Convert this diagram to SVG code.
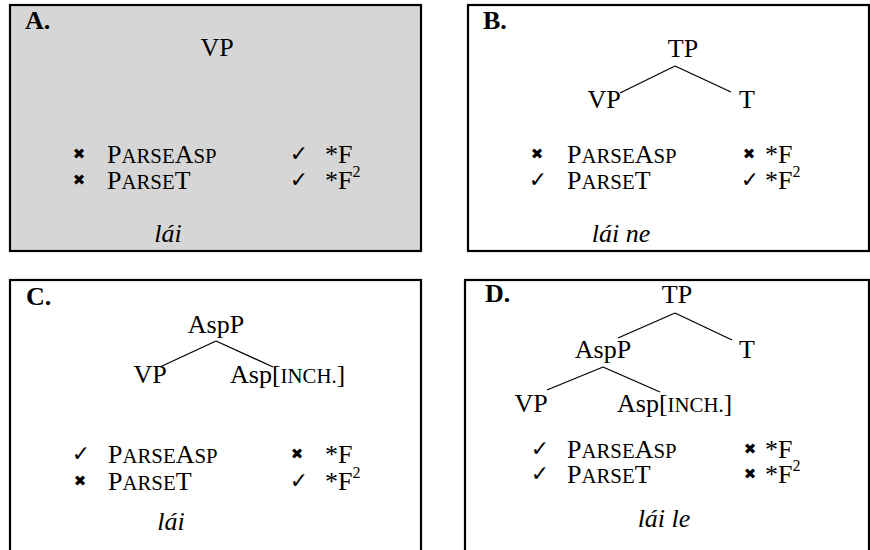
<svg xmlns="http://www.w3.org/2000/svg" width="870" height="550" viewBox="0 0 870 550">
<style>
.box{stroke:#000;stroke-width:2.2;}
.t{font-family:'Liberation Serif','Times New Roman',Times,serif;font-size:26px;fill:#000;}
.lab{font-weight:bold;}
.m{text-anchor:middle;}
.sc{font-size:20.8px;}
.it{font-style:italic;}
.sym{font-family:'DejaVu Sans',sans-serif;fill:#000;text-anchor:middle;}
.chk{font-size:22px;}
.crs{font-size:15px;}
.sup{font-size:16px;}
.edge{stroke:#000;stroke-width:1.3;fill:none;}
</style>
<rect x="0" y="0" width="870" height="550" fill="#fff"/>

<g id="panelA" font-family="Liberation Serif, serif">
<rect class="box" x="10" y="5" width="411" height="246" fill="#d6d6d6"/>
<text class="t lab" x="25" y="29">A.</text>
<text class="t m" x="217" y="56">VP</text>
<text class="sym crs" x="79" y="159">✖</text>
<text class="t" x="107" y="163">P<tspan class="sc">ARSE</tspan>A<tspan class="sc">SP</tspan></text>
<text class="sym crs" x="79" y="185">✖</text>
<text class="t" x="107" y="189">P<tspan class="sc">ARSE</tspan>T</text>
<text class="sym chk" x="299" y="161">✓</text>
<text class="t" x="325" y="163">*F</text>
<text class="sym chk" x="299" y="187">✓</text>
<text class="t" x="325" y="189">*F<tspan class="sup" dy="-12">2</tspan></text>
<text class="t it m" x="168" y="242">lái</text>
</g>

<g id="panelB" font-family="Liberation Serif, serif">
<rect class="box" x="468" y="5" width="401" height="246" fill="#fff"/>
<text class="t lab" x="483" y="29">B.</text>
<text class="t m" x="683" y="57">TP</text>
<text class="t m" x="604" y="108">VP</text>
<text class="t m" x="747" y="108">T</text>
<text class="sym crs" x="537" y="159">✖</text>
<text class="t" x="567" y="163">P<tspan class="sc">ARSE</tspan>A<tspan class="sc">SP</tspan></text>
<text class="sym chk" x="538" y="187">✓</text>
<text class="t" x="567" y="189">P<tspan class="sc">ARSE</tspan>T</text>
<text class="sym crs" x="749" y="159">✖</text>
<text class="t" x="765" y="163">*F</text>
<text class="sym chk" x="750" y="187">✓</text>
<text class="t" x="765" y="189">*F<tspan class="sup" dy="-12">2</tspan></text>
<text class="t it m" x="621" y="242">lái ne</text>
</g>

<g id="panelC" font-family="Liberation Serif, serif">
<rect class="box" x="10" y="280" width="411" height="290" fill="#fff"/>
<text class="t lab" x="26" y="305">C.</text>
<text class="t m" x="216" y="333">AspP</text>
<text class="t m" x="150" y="383">VP</text>
<text class="t" x="230" y="383">Asp[<tspan class="sc">INCH.</tspan>]</text>
<text class="sym chk" x="81" y="461">✓</text>
<text class="t" x="108" y="463">P<tspan class="sc">ARSE</tspan>A<tspan class="sc">SP</tspan></text>
<text class="sym crs" x="80" y="486">✖</text>
<text class="t" x="108" y="490">P<tspan class="sc">ARSE</tspan>T</text>
<text class="sym crs" x="297" y="459">✖</text>
<text class="t" x="325" y="463">*F</text>
<text class="sym chk" x="299" y="488">✓</text>
<text class="t" x="325" y="490">*F<tspan class="sup" dy="-12">2</tspan></text>
<text class="t it m" x="171" y="530">lái</text>
</g>

<g id="panelD" font-family="Liberation Serif, serif">
<rect class="box" x="465" y="280" width="404" height="290" fill="#fff"/>
<text class="t lab" x="485" y="302">D.</text>
<text class="t m" x="677" y="303">TP</text>
<text class="t m" x="603" y="358">AspP</text>
<text class="t m" x="747" y="358">T</text>
<text class="t m" x="531" y="412">VP</text>
<text class="t" x="617" y="412">Asp[<tspan class="sc">INCH.</tspan>]</text>
<text class="sym chk" x="540" y="456">✓</text>
<text class="t" x="567" y="458">P<tspan class="sc">ARSE</tspan>A<tspan class="sc">SP</tspan></text>
<text class="sym chk" x="540" y="481">✓</text>
<text class="t" x="567" y="483">P<tspan class="sc">ARSE</tspan>T</text>
<text class="sym crs" x="750" y="454">✖</text>
<text class="t" x="765" y="458">*F</text>
<text class="sym crs" x="750" y="479">✖</text>
<text class="t" x="765" y="483">*F<tspan class="sup" dy="-12">2</tspan></text>
<text class="t it m" x="664" y="527">lái le</text>
</g>

<g id="connectors">
<line class="edge" x1="675" y1="66" x2="620" y2="93"/>
<line class="edge" x1="675" y1="66" x2="731" y2="92"/>
<line class="edge" x1="216" y1="341" x2="160" y2="367"/>
<line class="edge" x1="216" y1="341" x2="273" y2="367"/>
<line class="edge" x1="675" y1="313" x2="618" y2="338"/>
<line class="edge" x1="675" y1="313" x2="732" y2="340"/>
<line class="edge" x1="603" y1="367" x2="547" y2="390"/>
<line class="edge" x1="603" y1="367" x2="660" y2="392"/>
</g>
</svg>
